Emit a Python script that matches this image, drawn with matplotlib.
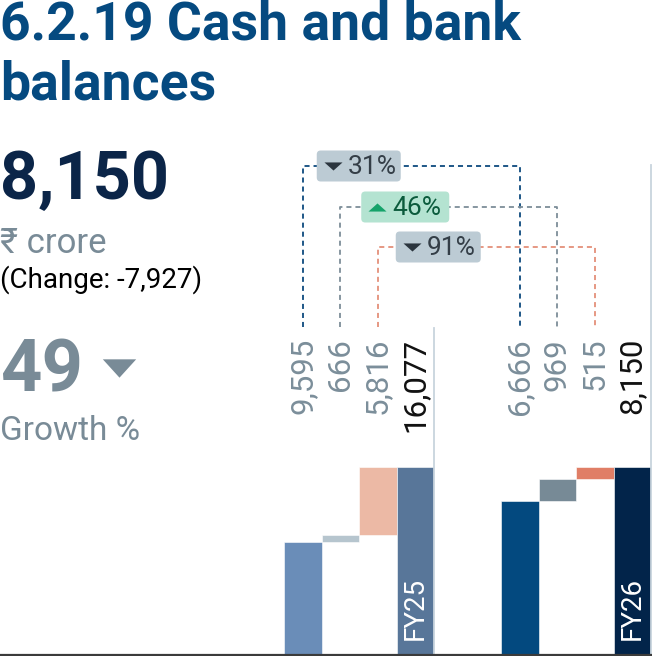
import matplotlib.pyplot as plt
import matplotlib.transforms as mtransforms
from matplotlib.patches import FancyBboxPatch

plt.rcParams['font.family'] = ['Roboto', 'DejaVu Sans']

# data
fy25_values = [9595, 666, 5816, 16077]
fy25_labels = ['9,595', '666', '5,816', '16,077']
fy26_values = [6666, 969, 515, 8150]
fy26_labels = ['6,666', '969', '515', '8,150']
periods = ['FY25', 'FY26']
change_pct = ['31%', '46%', '91%']
change_up = [False, True, False]

title_lines = ['6.2.19 Cash and bank', 'balances']
headline = '8,150'
unit = '\u20b9 crore'
change_txt = '(Change: -7,927)'
growth = '49'
growth_txt = 'Growth %'

# colours
fy25_colors = ['#6a8db8', '#b6c5ce', '#ecb9a5', '#587699']
fy26_colors = ['#03497f', '#778a96', '#e07e66', '#02244a']
dash_colors = ['#0d4a7e', '#7d8e99', '#e4907a']
box_colors = ['#bccbd4', '#b4e3d1', '#bccbd4']
box_txt_colors = ['#343e47', '#0b5b3c', '#343e47']
tri_colors = ['#2b353e', '#15a36a', '#2b353e']
grey = '#798b97'

W, H = 652, 656
fig = plt.figure(figsize=(W / 100, H / 100), dpi=100)


def waterfall(ax, vals, labels, colors, period, sep_top):
    bottoms = [0, vals[0], vals[0] + vals[1], 0]
    x = list(range(len(vals)))
    ax.bar(x, vals, bottom=bottoms, width=1.0, color=colors,
           edgecolor='white', linewidth=0.4)
    ax.set_xlim(-0.5, 3.5)
    ax.set_ylim(0, vals[-1])
    ax.axis('off')
    tr = mtransforms.blended_transform_factory(ax.transData, ax.transAxes)
    for i, lab in enumerate(labels):
        ax.text(i, (654 - 338) / 187, lab, rotation=90, ha='center', va='top',
                transform=tr, fontsize=22.5,
                color='#111111' if i == 3 else '#7b8e9a')
    ax.text(3, (654 - 640) / 187, period, rotation=90, ha='center',
            va='bottom', transform=tr, fontsize=20, color='white')
    ax.plot([3.5, 3.5], [0, sep_top], transform=tr, clip_on=False,
            color='#c8d4dd', lw=1.3)


ax1 = fig.add_axes([284 / W, 2 / H, 150 / W, 187 / H])
waterfall(ax1, fy25_values, fy25_labels, fy25_colors, periods[0],
          (654 - 328) / 187)
ax2 = fig.add_axes([501 / W, 2 / H, 150 / W, 187 / H])
waterfall(ax2, fy26_values, fy26_labels, fy26_colors, periods[1],
          (654 - 165) / 187)

# overlay in pixel coordinates (y down)
ov = fig.add_axes([0, 0, 1, 1])
ov.set_xlim(0, W)
ov.set_ylim(H, 0)
ov.axis('off')
ov.patch.set_alpha(0)

# baseline
ov.plot([0, W], [655, 655], color='#3b3b3b', lw=1.6, solid_capstyle='butt')

# connector brackets between matching steps
levels = [166, 207, 247]
box_off = [14, 21, 18]
box_w = [84, 88, 85]
for k in range(3):
    xa = ax1.transData.transform((k, 0))[0]
    xb = ax2.transData.transform((k, 0))[0]
    y = levels[k]
    ov.plot([xa, xa, xb, xb], [327, y, y, 327], color=dash_colors[k],
            lw=1.3, dashes=(2.8, 2.2))
    bx = xa + box_off[k]
    ov.add_patch(FancyBboxPatch((bx, y - 15.5), box_w[k], 31,
                                boxstyle='round,pad=0,rounding_size=4',
                                fc=box_colors[k], ec='none', zorder=5))
    tri = [(-1, 0.45), (1, 0.45), (0, -0.45), (-1, 0.45)]
    if change_up[k]:
        tri = [(-1, -0.45), (1, -0.45), (0, 0.45), (-1, -0.45)]
    ov.plot([bx + 16], [y], marker=tri, ms=13, color=tri_colors[k],
            mew=0, zorder=6)
    ov.text(bx + 31, y + 1, change_pct[k], ha='left', va='center',
            fontsize=19, color=box_txt_colors[k], zorder=6)

# left panel
ov.text(0, 39, title_lines[0], fontsize=38.5, fontweight='bold',
        color='#054a80', va='baseline', ha='left')
ov.text(0, 100, title_lines[1], fontsize=38.5, fontweight='bold',
        color='#054a80', va='baseline', ha='left')
ov.text(0, 199, headline, fontsize=48, fontweight='bold',
        color='#0b2548', va='baseline', ha='left')
ov.text(0, 253, unit, fontsize=25, color=grey, va='baseline', ha='left')
ov.text(0, 288, change_txt, fontsize=20, color='black', va='baseline',
        ha='left')
ov.text(0, 391, growth, fontsize=52, fontweight='bold', color=grey,
        va='baseline', ha='left')
ov.plot([118.5], [368], marker=[(-1, 0.55), (1, 0.55), (0, -0.55), (-1, 0.55)],
        ms=24, color=grey, mew=0)
ov.text(0, 440, growth_txt, fontsize=24, color=grey, va='baseline', ha='left')

fig.savefig('out.png', dpi=100)
